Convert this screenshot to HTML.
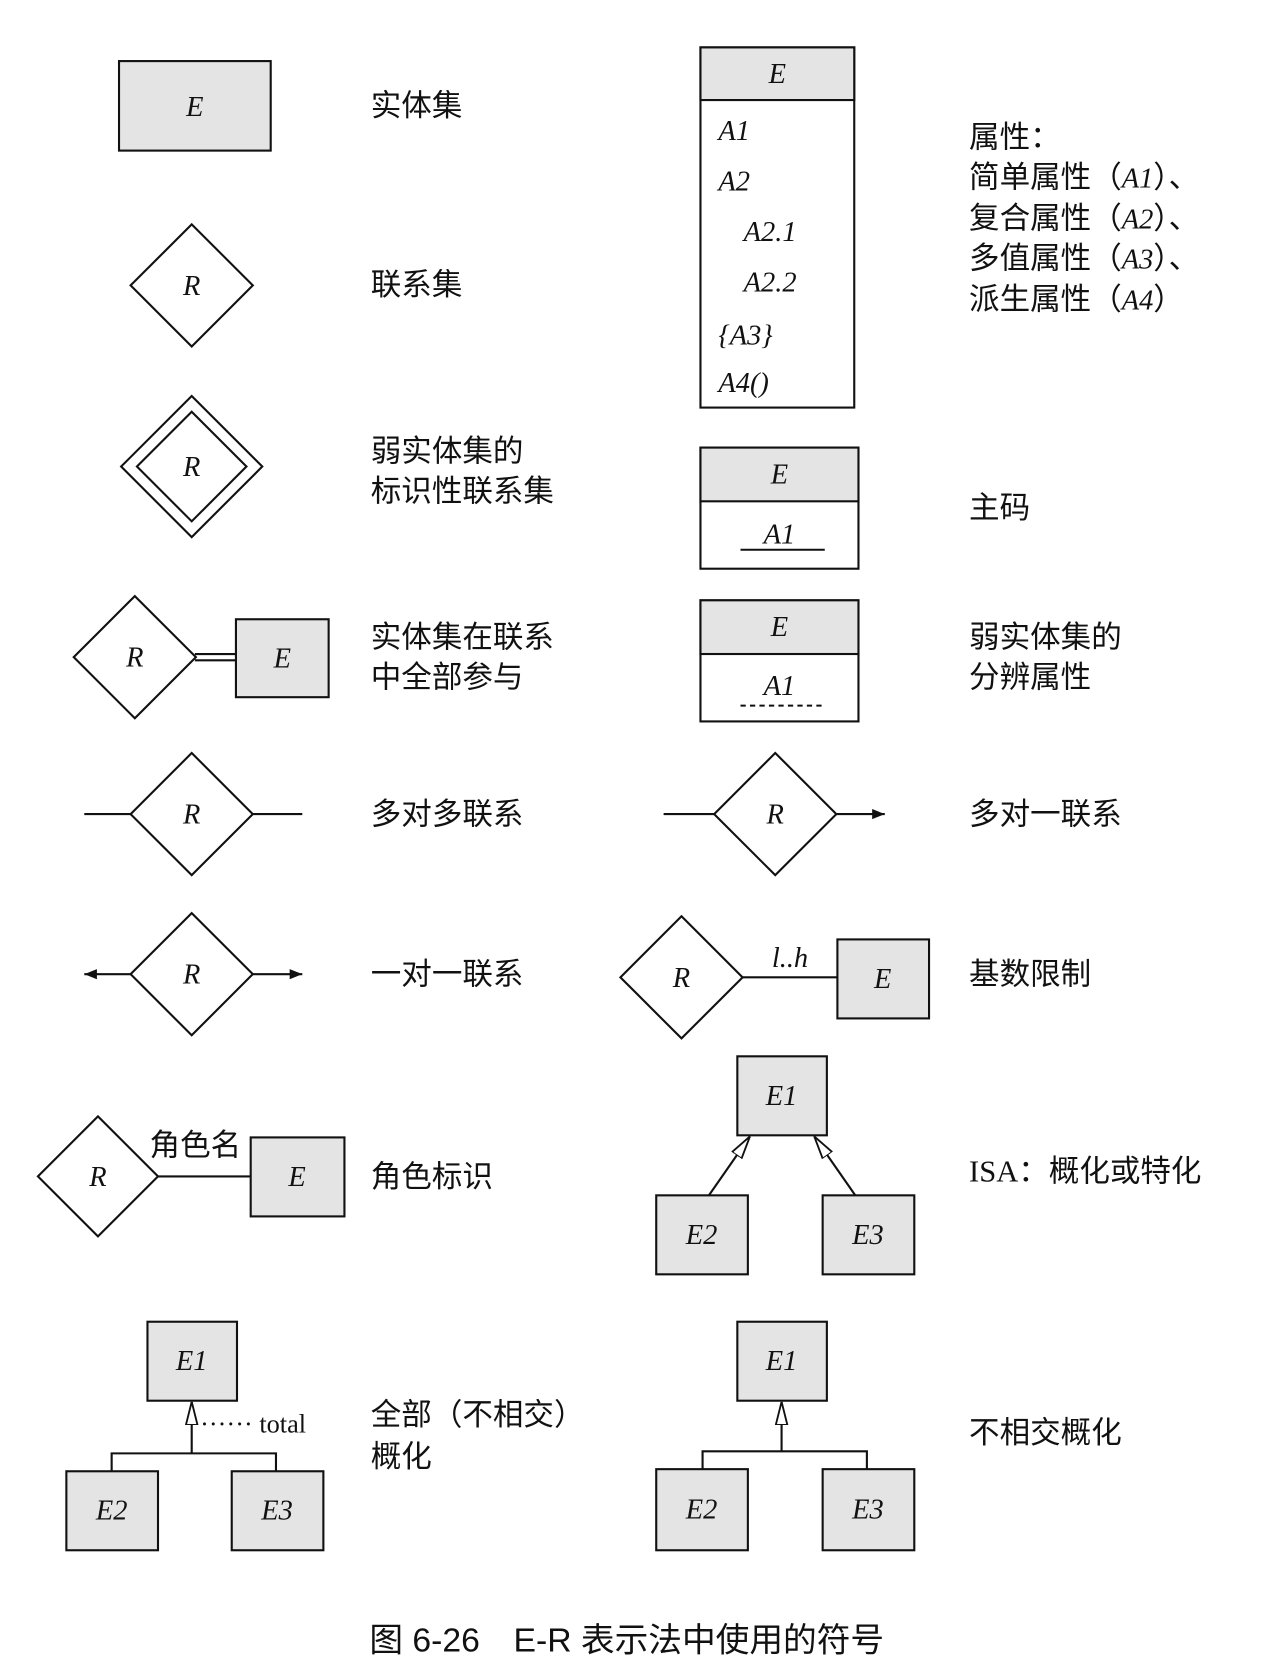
<!DOCTYPE html>
<html><head><meta charset="utf-8"><style>
html,body{margin:0;padding:0;background:#fff;}
svg{display:block;}
.e{font-family:"Liberation Serif",serif;font-style:italic;font-size:27px;fill:#111;}
.c{font-family:"Liberation Sans","Noto Sans CJK SC",sans-serif;font-size:29px;fill:#111;}
.g{fill:#e4e4e4;stroke:#111;stroke-width:2;}
.w{fill:#fff;stroke:#111;stroke-width:2;}
.l{stroke:#111;stroke-width:2;fill:none;}
</style></head><body>
<svg width="1264" height="1664" viewBox="0 0 1200 1580" preserveAspectRatio="none" xmlns="http://www.w3.org/2000/svg">
<defs>
<marker id="ar" viewBox="0 0 10 10" refX="10" refY="5" markerWidth="12" markerHeight="12" orient="auto" markerUnits="userSpaceOnUse"><path d="M0,1 L10,5 L0,9 Z" fill="#111"/></marker>
<marker id="hollow" viewBox="0 0 10 10" refX="10" refY="5" markerWidth="22" markerHeight="22" orient="auto" markerUnits="userSpaceOnUse"><path d="M0,2.5 L10,5 L0,7.5 Z" fill="#fff" stroke="#111" stroke-width="0.8"/></marker>
</defs>
<rect class="g" x="113" y="58" width="144" height="85"/>
<text class="e" x="185" y="110" text-anchor="middle">E</text>
<text class="c" x="352" y="110">实体集</text>

<path class="w" d="M182,213 L240,271 L182,329 L124,271 Z"/>
<text class="e" x="182" y="280" text-anchor="middle">R</text>
<text class="c" x="352" y="280">联系集</text>

<path class="w" d="M182,376 L249,443 L182,510 L115,443 Z"/>
<path class="w" d="M182,391 L234,443 L182,495 L130,443 Z"/>
<text class="e" x="182" y="452" text-anchor="middle">R</text>
<text class="c" x="352" y="438">弱实体集的</text>
<text class="c" x="352" y="476">标识性联系集</text>

<path class="w" d="M128,566 L186,624 L128,682 L70,624 Z"/>
<text class="e" x="128" y="633" text-anchor="middle">R</text>
<line class="l" x1="185" y1="621" x2="224" y2="621"/>
<line class="l" x1="185" y1="627" x2="224" y2="627"/>
<rect class="g" x="224" y="588" width="88" height="74"/>
<text class="e" x="268" y="634" text-anchor="middle">E</text>
<text class="c" x="352" y="615">实体集在联系</text>
<text class="c" x="352" y="653">中全部参与</text>

<line class="l" x1="80" y1="773" x2="124" y2="773"/>
<line class="l" x1="240" y1="773" x2="287" y2="773"/>
<path class="w" d="M182,715 L240,773 L182,831 L124,773 Z"/>
<text class="e" x="182" y="782" text-anchor="middle">R</text>
<text class="c" x="352" y="783">多对多联系</text>

<line class="l" x1="124" y1="925" x2="80" y2="925" marker-end="url(#ar)"/>
<line class="l" x1="240" y1="925" x2="287" y2="925" marker-end="url(#ar)"/>
<path class="w" d="M182,867 L240,925 L182,983 L124,925 Z"/>
<text class="e" x="182" y="934" text-anchor="middle">R</text>
<text class="c" x="352" y="935">一对一联系</text>

<path class="w" d="M93,1060 L150,1117 L93,1174 L36,1117 Z"/>
<text class="e" x="93" y="1126" text-anchor="middle">R</text>
<line class="l" x1="150" y1="1117" x2="238" y2="1117"/>
<text class="c" x="142" y="1097">角色名</text>
<rect class="g" x="238" y="1080" width="89" height="75"/>
<text class="e" x="282" y="1126" text-anchor="middle">E</text>
<text class="c" x="352" y="1127">角色标识</text>

<rect class="g" x="140" y="1255" width="85" height="75"/>
<text class="e" x="182" y="1301" text-anchor="middle">E1</text>
<line class="l" x1="182" y1="1380" x2="182" y2="1331" marker-end="url(#hollow)"/>
<text x="190" y="1360" style="font-family:'Liberation Serif',serif;font-size:25px;fill:#111;">······ total</text>
<path class="l" d="M106,1397 L106,1380 L262,1380 L262,1397"/>
<rect class="g" x="63" y="1397" width="87" height="75"/>
<text class="e" x="106" y="1443" text-anchor="middle">E2</text>
<rect class="g" x="220" y="1397" width="87" height="75"/>
<text class="e" x="263" y="1443" text-anchor="middle">E3</text>
<text class="c" x="352" y="1353">全部（不相交）</text>
<text class="c" x="352" y="1393">概化</text>

<rect class="w" x="665" y="45" width="146" height="342"/>
<rect class="g" x="665" y="45" width="146" height="50"/>
<text class="e" x="738" y="79" text-anchor="middle">E</text>
<text class="e" x="682" y="133">A1</text>
<text class="e" x="682" y="181">A2</text>
<text class="e" x="706" y="229">A2.1</text>
<text class="e" x="706" y="277">A2.2</text>
<text class="e" x="682" y="327">{A3}</text>
<text class="e" x="682" y="372">A4()</text>
<text class="c" x="920" y="140">属性：</text>
<text class="c" x="920" y="178">简单属性（<tspan class="e">A1</tspan>）、</text>
<text class="c" x="920" y="217">复合属性（<tspan class="e">A2</tspan>）、</text>
<text class="c" x="920" y="255">多值属性（<tspan class="e">A3</tspan>）、</text>
<text class="c" x="920" y="294">派生属性（<tspan class="e">A4</tspan>）</text>

<rect class="w" x="665" y="425" width="150" height="115"/>
<rect class="g" x="665" y="425" width="150" height="51"/>
<text class="e" x="740" y="459" text-anchor="middle">E</text>
<text class="e" x="740" y="516" text-anchor="middle">A1</text>
<line class="l" x1="703" y1="522" x2="783" y2="522"/>
<text class="c" x="920" y="492">主码</text>

<rect class="w" x="665" y="570" width="150" height="115"/>
<rect class="g" x="665" y="570" width="150" height="51"/>
<text class="e" x="740" y="604" text-anchor="middle">E</text>
<text class="e" x="740" y="660" text-anchor="middle">A1</text>
<line class="l" x1="703" y1="670" x2="783" y2="670" stroke-dasharray="5,4"/>
<text class="c" x="920" y="615">弱实体集的</text>
<text class="c" x="920" y="653">分辨属性</text>

<line class="l" x1="630" y1="773" x2="678" y2="773"/>
<line class="l" x1="794" y1="773" x2="840" y2="773" marker-end="url(#ar)"/>
<path class="w" d="M736,715 L794,773 L736,831 L678,773 Z"/>
<text class="e" x="736" y="782" text-anchor="middle">R</text>
<text class="c" x="920" y="783">多对一联系</text>

<path class="w" d="M647,870 L705,928 L647,986 L589,928 Z"/>
<text class="e" x="647" y="937" text-anchor="middle">R</text>
<line class="l" x1="705" y1="928" x2="795" y2="928"/>
<text class="e" x="750" y="918" text-anchor="middle">l..h</text>
<rect class="g" x="795" y="892" width="87" height="75"/>
<text class="e" x="838" y="938" text-anchor="middle">E</text>
<text class="c" x="920" y="935">基数限制</text>

<rect class="g" x="700" y="1003" width="85" height="75"/>
<text class="e" x="742" y="1049" text-anchor="middle">E1</text>
<line class="l" x1="673" y1="1135" x2="712" y2="1079" marker-end="url(#hollow)"/>
<line class="l" x1="812" y1="1135" x2="773" y2="1079" marker-end="url(#hollow)"/>
<rect class="g" x="623" y="1135" width="87" height="75"/>
<text class="e" x="666" y="1181" text-anchor="middle">E2</text>
<rect class="g" x="781" y="1135" width="87" height="75"/>
<text class="e" x="824" y="1181" text-anchor="middle">E3</text>
<text class="c" x="920" y="1122"><tspan style="font-family:'Liberation Serif',serif;">ISA</tspan>：概化或特化</text>

<rect class="g" x="700" y="1255" width="85" height="75"/>
<text class="e" x="742" y="1301" text-anchor="middle">E1</text>
<line class="l" x1="742" y1="1378" x2="742" y2="1331" marker-end="url(#hollow)"/>
<path class="l" d="M667,1395 L667,1378 L823,1378 L823,1395"/>
<rect class="g" x="623" y="1395" width="87" height="77"/>
<text class="e" x="666" y="1442" text-anchor="middle">E2</text>
<rect class="g" x="781" y="1395" width="87" height="77"/>
<text class="e" x="824" y="1442" text-anchor="middle">E3</text>
<text class="c" x="920" y="1370">不相交概化</text>

<text x="595" y="1568" text-anchor="middle" style="font-family:'Liberation Sans','Noto Sans CJK SC',sans-serif;font-size:32px;fill:#111;">图 6-26　E-R 表示法中使用的符号</text>
</svg>
</body></html>
